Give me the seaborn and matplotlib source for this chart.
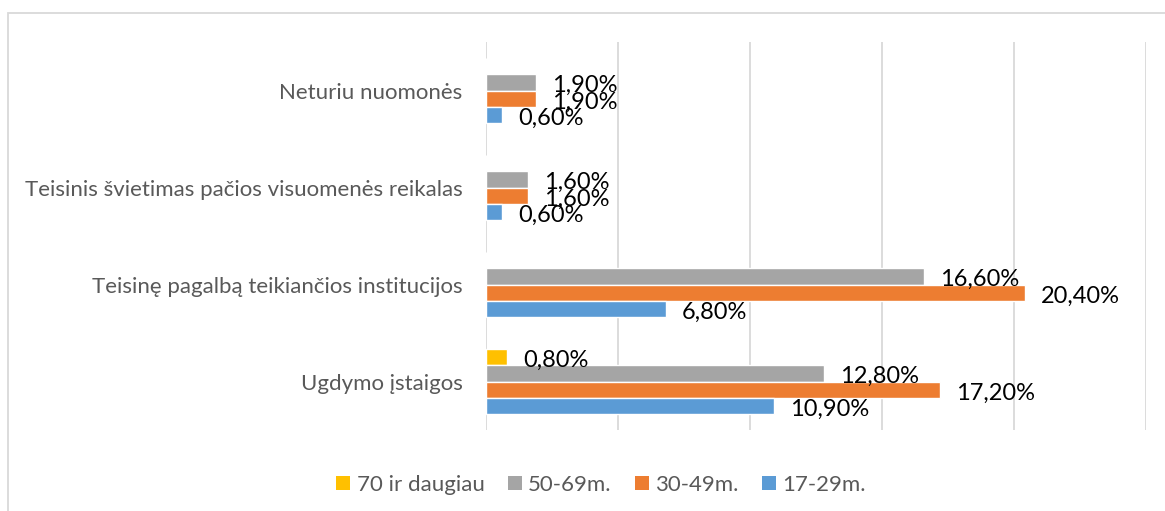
import matplotlib
matplotlib.use("Agg")
import matplotlib.pyplot as plt
from matplotlib.patches import Rectangle, Patch
import seaborn as sns
import pandas as pd

categories = ["Neturiu nuomonės",
              "Teisinis švietimas pačios visuomenės reikalas",
              "Teisinę pagalbą teikiančios institucijos",
              "Ugdymo įstaigos"]
series = ["70 ir daugiau", "50-69m.", "30-49m.", "17-29m."]
v70 = [0.0, 0.0, 0.0, 0.8]
v50 = [1.9, 1.6, 16.6, 12.8]
v30 = [1.9, 1.6, 20.4, 17.2]
v17 = [0.6, 0.6, 6.8, 10.9]
colors = ["#FFC000", "#A5A5A5", "#ED7D31", "#5B9BD5"]

rows = []
for s, vals in zip(series, [v70, v50, v30, v17]):
    for c, v in zip(categories, vals):
        rows.append({"cat": c, "series": s, "val": v})
df = pd.DataFrame(rows)

sns.set_theme(style="white")
plt.rcParams["font.family"] = ["Lato", "DejaVu Sans"]

W, H = 1165, 511
fig = plt.figure(figsize=(W / 100, H / 100), dpi=100)
ax = fig.add_axes([486 / W, 1 - 430 / H, (1146 - 486) / W, (430 - 42) / H])

sns.barplot(data=df, y="cat", x="val", hue="series", order=categories,
            hue_order=series, palette=colors, width=0.68, orient="h",
            ax=ax, legend=False, errorbar=None, saturation=1)

ax.set_xlim(0, 25)
ax.set_xticks([0, 5, 10, 15, 20, 25])
ax.set_xticklabels([])
ax.grid(axis="x", color="#D9D9D9", linewidth=1.3)
ax.set_axisbelow(True)
for sp in ax.spines.values():
    sp.set_visible(False)
ax.set_xlabel("")
ax.set_ylabel("")
ax.tick_params(axis="both", length=0)
ax.tick_params(axis="y", pad=17, labelsize=16, labelcolor="#595959")

for cont in ax.containers:
    for bar in cont:
        v = bar.get_width()
        if v and v > 0:
            y = bar.get_y() + bar.get_height() / 2
            ax.annotate(f"{v:.2f}".replace(".", ",") + "%", xy=(v, y),
                        xytext=(11.5, -2.5), textcoords="offset points",
                        ha="left", va="center", fontsize=17, color="#000000")

handles = [Patch(facecolor=c, edgecolor="none") for c in colors]
fig.legend(handles, series, loc="center", bbox_to_anchor=(0.516, 1 - 485 / H),
           ncol=4, frameon=False, fontsize=16, handlelength=0.62,
           handleheight=0.62, handletextpad=0.3, columnspacing=1.05,
           labelcolor="#595959")

fig.patches.append(Rectangle((8 / W, -0.05), 1.1, 1 - 13 / H + 0.05,
                             transform=fig.transFigure, fill=False,
                             edgecolor="#D9D9D9", linewidth=1.3))

fig.savefig("out.png", dpi=100, facecolor="white")
